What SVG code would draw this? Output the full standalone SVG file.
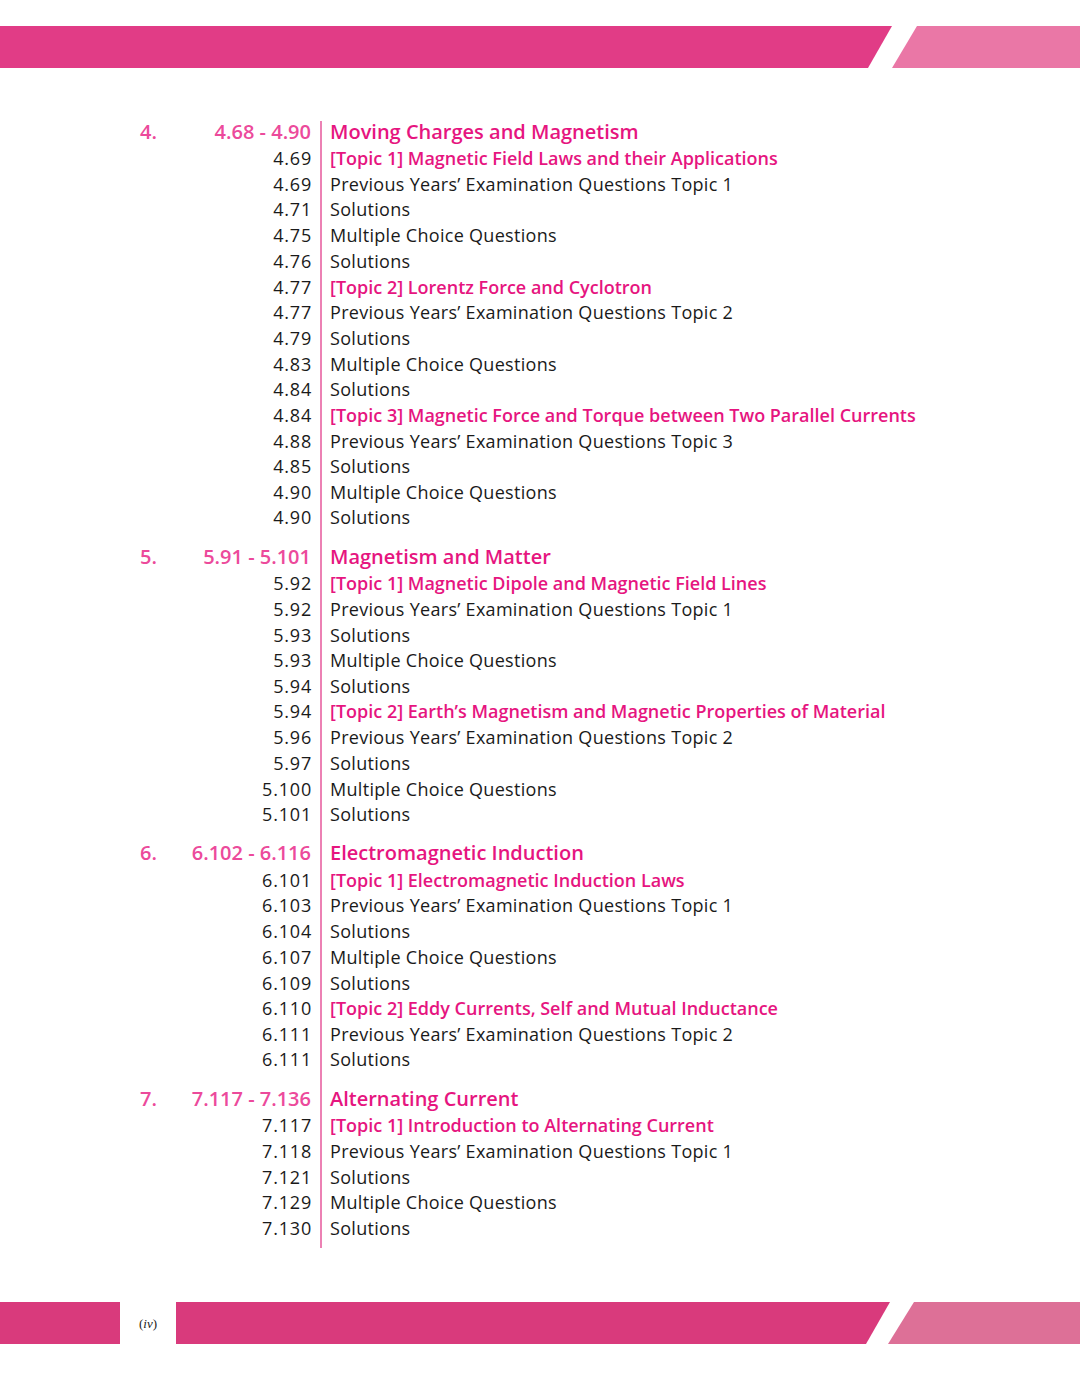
<svg xmlns="http://www.w3.org/2000/svg" width="1080" height="1380" viewBox="0 0 1080 1380">
<style>
.n{font-family:"Open Sans","Liberation Sans",sans-serif;font-size:18px;fill:#1a1a1a;text-anchor:end;letter-spacing:0.8px}
.t{font-family:"Open Sans","Liberation Sans",sans-serif;font-size:18px;fill:#1a1a1a;letter-spacing:0.3px}
.p{font-family:"Open Sans","Liberation Sans",sans-serif;font-size:18px;fill:#e6157f;font-weight:600}
.h{font-family:"Open Sans","Liberation Sans",sans-serif;font-size:20px;fill:#e6157f;font-weight:600}
.c{font-family:"Open Sans","Liberation Sans",sans-serif;font-size:20px;fill:#ec4a9b;font-weight:600}
.cr{font-family:"Open Sans","Liberation Sans",sans-serif;font-size:20px;fill:#ec4a9b;font-weight:600;text-anchor:end}
</style>
<rect width="1080" height="1380" fill="#fff"/>
<polygon points="0,26 892,26 868,68 0,68" fill="#e13c86"/>
<polygon points="917,26 1080,26 1080,68 892,68" fill="#ea77a6"/>
<polygon points="0,1302 890,1302 866,1344 0,1344" fill="#d93a7c"/>
<polygon points="914,1302 1080,1302 1080,1344 888,1344" fill="#dd7097"/>
<rect x="120" y="1302" width="56" height="42" fill="#fff"/>
<text x="148" y="1328" font-family="Liberation Serif,serif" font-size="13" text-anchor="middle" fill="#222">(<tspan font-style="italic">iv</tspan>)</text>
<line x1="321" y1="121" x2="321" y2="1248" stroke="#e6579b" stroke-width="1.5"/>
<g>
<text class="c" x="140" y="139">4.</text><text class="cr" x="311" y="139">4.68 - 4.90</text><text class="h" x="330" y="139">Moving Charges and Magnetism</text>
<text class="n" x="312" y="165">4.69</text><text class="p" x="330" y="165">[Topic 1] Magnetic Field Laws and their Applications</text>
<text class="n" x="312" y="191">4.69</text><text class="t" x="330" y="191">Previous Years’ Examination Questions Topic 1</text>
<text class="n" x="312" y="216">4.71</text><text class="t" x="330" y="216">Solutions</text>
<text class="n" x="312" y="242">4.75</text><text class="t" x="330" y="242">Multiple Choice Questions</text>
<text class="n" x="312" y="268">4.76</text><text class="t" x="330" y="268">Solutions</text>
<text class="n" x="312" y="294">4.77</text><text class="p" x="330" y="294">[Topic 2] Lorentz Force and Cyclotron</text>
<text class="n" x="312" y="319">4.77</text><text class="t" x="330" y="319">Previous Years’ Examination Questions Topic 2</text>
<text class="n" x="312" y="345">4.79</text><text class="t" x="330" y="345">Solutions</text>
<text class="n" x="312" y="371">4.83</text><text class="t" x="330" y="371">Multiple Choice Questions</text>
<text class="n" x="312" y="396">4.84</text><text class="t" x="330" y="396">Solutions</text>
<text class="n" x="312" y="422">4.84</text><text class="p" x="330" y="422">[Topic 3] Magnetic Force and Torque between Two Parallel Currents</text>
<text class="n" x="312" y="448">4.88</text><text class="t" x="330" y="448">Previous Years’ Examination Questions Topic 3</text>
<text class="n" x="312" y="473">4.85</text><text class="t" x="330" y="473">Solutions</text>
<text class="n" x="312" y="499">4.90</text><text class="t" x="330" y="499">Multiple Choice Questions</text>
<text class="n" x="312" y="524">4.90</text><text class="t" x="330" y="524">Solutions</text>
</g>
<g>
<text class="c" x="140" y="564">5.</text><text class="cr" x="311" y="564">5.91 - 5.101</text><text class="h" x="330" y="564">Magnetism and Matter</text>
<text class="n" x="312" y="590">5.92</text><text class="p" x="330" y="590">[Topic 1] Magnetic Dipole and Magnetic Field Lines</text>
<text class="n" x="312" y="616">5.92</text><text class="t" x="330" y="616">Previous Years’ Examination Questions Topic 1</text>
<text class="n" x="312" y="642">5.93</text><text class="t" x="330" y="642">Solutions</text>
<text class="n" x="312" y="667">5.93</text><text class="t" x="330" y="667">Multiple Choice Questions</text>
<text class="n" x="312" y="693">5.94</text><text class="t" x="330" y="693">Solutions</text>
<text class="n" x="312" y="718">5.94</text><text class="p" x="330" y="718">[Topic 2] Earth’s Magnetism and Magnetic Properties of Material</text>
<text class="n" x="312" y="744">5.96</text><text class="t" x="330" y="744">Previous Years’ Examination Questions Topic 2</text>
<text class="n" x="312" y="770">5.97</text><text class="t" x="330" y="770">Solutions</text>
<text class="n" x="312" y="796">5.100</text><text class="t" x="330" y="796">Multiple Choice Questions</text>
<text class="n" x="312" y="821">5.101</text><text class="t" x="330" y="821">Solutions</text>
</g>
<g>
<text class="c" x="140" y="860">6.</text><text class="cr" x="311" y="860">6.102 - 6.116</text><text class="h" x="330" y="860">Electromagnetic Induction</text>
<text class="n" x="312" y="887">6.101</text><text class="p" x="330" y="887">[Topic 1] Electromagnetic Induction Laws</text>
<text class="n" x="312" y="912">6.103</text><text class="t" x="330" y="912">Previous Years’ Examination Questions Topic 1</text>
<text class="n" x="312" y="938">6.104</text><text class="t" x="330" y="938">Solutions</text>
<text class="n" x="312" y="964">6.107</text><text class="t" x="330" y="964">Multiple Choice Questions</text>
<text class="n" x="312" y="990">6.109</text><text class="t" x="330" y="990">Solutions</text>
<text class="n" x="312" y="1015">6.110</text><text class="p" x="330" y="1015">[Topic 2] Eddy Currents, Self and Mutual Inductance</text>
<text class="n" x="312" y="1041">6.111</text><text class="t" x="330" y="1041">Previous Years’ Examination Questions Topic 2</text>
<text class="n" x="312" y="1066">6.111</text><text class="t" x="330" y="1066">Solutions</text>
</g>
<g>
<text class="c" x="140" y="1106">7.</text><text class="cr" x="311" y="1106">7.117 - 7.136</text><text class="h" x="330" y="1106">Alternating Current</text>
<text class="n" x="312" y="1132">7.117</text><text class="p" x="330" y="1132">[Topic 1] Introduction to Alternating Current</text>
<text class="n" x="312" y="1158">7.118</text><text class="t" x="330" y="1158">Previous Years’ Examination Questions Topic 1</text>
<text class="n" x="312" y="1184">7.121</text><text class="t" x="330" y="1184">Solutions</text>
<text class="n" x="312" y="1209">7.129</text><text class="t" x="330" y="1209">Multiple Choice Questions</text>
<text class="n" x="312" y="1235">7.130</text><text class="t" x="330" y="1235">Solutions</text>
</g>
</svg>
